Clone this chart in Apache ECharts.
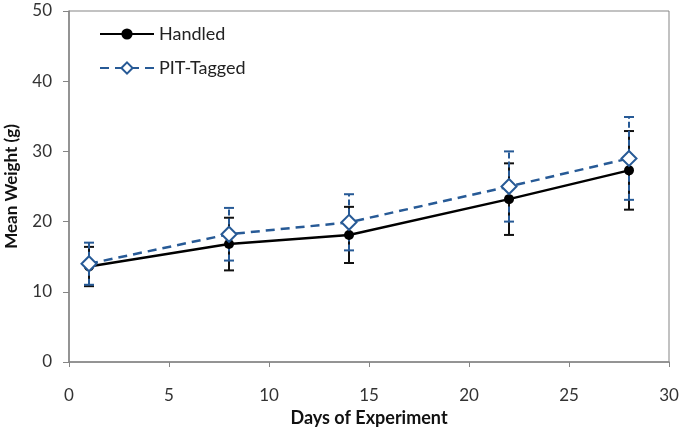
<!DOCTYPE html>
<html>
<head>
<meta charset="utf-8">
<script src="https://cdn.jsdelivr.net/npm/echarts@6/dist/echarts.min.js"></script>
<style>
  html, body { margin: 0; padding: 0; background: #fff; }
  #chart { width: 685px; height: 434px; }
</style>
</head>
<body>
<div id="chart"></div>
<script>
var days = [1, 8, 14, 22, 28];
var handledMean = [13.6, 16.8, 18.1, 23.2, 27.3];
var handledErr = [2.8, 3.75, 4.0, 5.1, 5.6];
var pitMean = [14.0, 18.2, 19.9, 25.0, 29.0];
var pitErr = [3.0, 3.75, 4.0, 5.0, 5.9];

var blue = '#275a96';
var font = 'Lato, "Open Sans", sans-serif';

function pairs(xs, ys) {
    return xs.map(function (x, i) { return [x, ys[i]]; });
}
function bars(xs, ys, es) {
    return xs.map(function (x, i) { return [x, ys[i] - es[i], ys[i] + es[i]]; });
}

// vertical error bar with caps
function errRender(color, dashed) {
    return function (params, api) {
        var lo = api.coord([api.value(0), api.value(1)]);
        var hi = api.coord([api.value(0), api.value(2)]);
        var w = 5;
        var st = { stroke: color, lineWidth: 2 };
        return {
            type: 'group',
            children: [
                { type: 'line', shape: { x1: lo[0], y1: lo[1], x2: hi[0], y2: hi[1] },
                  style: { stroke: color, lineWidth: 2, lineDash: dashed ? [6, 3] : null } },
                { type: 'line', shape: { x1: lo[0] - w, y1: lo[1], x2: lo[0] + w, y2: lo[1] }, style: st },
                { type: 'line', shape: { x1: hi[0] - w, y1: hi[1], x2: hi[0] + w, y2: hi[1] }, style: st }
            ]
        };
    };
}

var myChart = echarts.init(document.getElementById('chart'));

option = {
    animation: false,
    grid: {
        left: 69, right: 16, top: 11, bottom: 72,
        outerBoundsMode: 'none', containLabel: false,
        show: true, borderColor: '#858585', borderWidth: 1
    },
    legend: {
        orient: 'vertical',
        left: 94, top: 20,
        itemWidth: 54, itemHeight: 14, itemGap: 16,
        textStyle: { fontFamily: font, fontSize: 18, color: '#222' },
        data: ['Handled', 'PIT-Tagged']
    },
    xAxis: {
        type: 'value', min: 0, max: 30, interval: 5,
        name: 'Days of Experiment', nameLocation: 'middle', nameGap: 46,
        nameTextStyle: { fontFamily: font, fontSize: 18, fontWeight: 'bold', color: '#111' },
        axisLine: { lineStyle: { color: '#858585', width: 1.5 } },
        axisTick: { show: true, length: 5, lineStyle: { color: '#858585' } },
        axisLabel: { fontFamily: font, fontSize: 17, color: '#333', margin: 25 },
        splitLine: { show: false }
    },
    yAxis: {
        type: 'value', min: 0, max: 50, interval: 10,
        name: 'Mean Weight (g)', nameLocation: 'middle', nameGap: 49,
        nameTextStyle: { fontFamily: font, fontSize: 17, fontWeight: 'bold', color: '#111' },
        axisLine: { show: true, lineStyle: { color: '#858585', width: 1.5 } },
        axisTick: { show: true, length: 6, lineStyle: { color: '#858585' } },
        axisLabel: { fontFamily: font, fontSize: 17, color: '#333', margin: 17 },
        splitLine: { show: false }
    },
    series: [
        {
            name: 'Handled', type: 'line',
            data: pairs(days, handledMean),
            symbol: 'circle', symbolSize: 10,
            itemStyle: { color: '#000' },
            lineStyle: { color: '#000', width: 2.5 },
            z: 3
        },
        {
            name: 'PIT-Tagged', type: 'line',
            data: pairs(days, pitMean),
            symbol: 'diamond', symbolSize: 15,
            itemStyle: { color: '#fff', borderColor: blue, borderWidth: 2 },
            lineStyle: { color: blue, width: 2.5, type: [9, 6] },
            z: 4
        },
        {
            name: 'err-h', type: 'custom',
            data: bars(days, handledMean, handledErr),
            renderItem: errRender('#111', false),
            encode: { x: 0, y: [1, 2] },
            z: 2
        },
        {
            name: 'err-p', type: 'custom',
            data: bars(days, pitMean, pitErr),
            renderItem: errRender(blue, true),
            encode: { x: 0, y: [1, 2] },
            z: 2
        }
    ]
};
myChart.setOption(option);
</script>
</body>
</html>
